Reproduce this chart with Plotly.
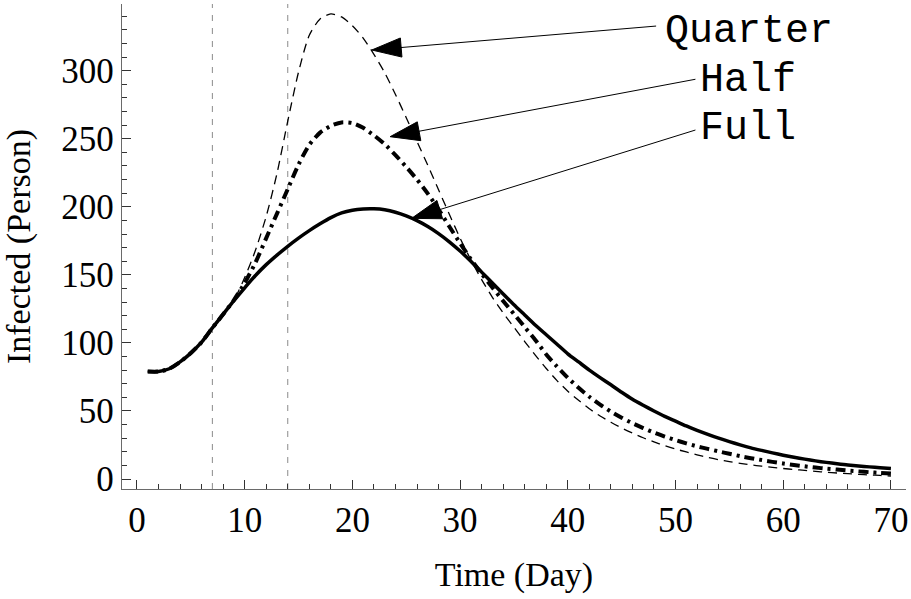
import plotly.graph_objects as go

# Daily number of infected people under three intervention levels
days = list(range(1, 71))

full = [79, 79, 81, 86, 92.5, 100.5, 111, 121, 131, 140.5,
        149.5, 157.5, 164.5, 171, 177, 182.5, 187.5, 192, 195.5, 197.5,
        198.4, 198.5, 197.8, 196, 193.3, 189.8, 185.5, 180.3, 174.3, 167.5,
        160, 152, 144, 136, 128, 120.5, 113, 106, 99, 92,
        86, 80, 74.5, 69.2, 63.7, 58.6, 54.2, 50.0, 46.0, 42.5,
        39.0, 35.8, 32.8, 30.0, 27.5, 25.1, 22.9, 21.0, 19.2, 17.5,
        16.0, 14.6, 13.3, 12.2, 11.2, 10.3, 9.6, 8.9, 8.3, 7.8]

half = [79, 79, 81, 86, 92.5, 100.5, 111, 121, 131.5, 144,
        159, 177, 195, 213, 231, 245.5, 254.5, 259.5, 262, 261.5,
        258, 252.5, 246, 238, 229.3, 220, 209.7, 198.2, 185.5, 173.3,
        161.5, 150.8, 140.6, 130.8, 121.2, 111.6, 102, 91.5, 82.6, 74.4,
        67, 60.4, 54.6, 49.5, 45, 41, 37.4, 34.1, 31.2, 28.6,
        26.2, 24, 22.1, 20.3, 18.5, 16.8, 15.3, 13.9, 12.6, 11.4,
        10.3, 9.3, 8.4, 7.6, 6.9, 6.2, 5.6, 5.0, 4.5, 4.0]

quarter = [79, 79, 81, 86, 92.5, 100.5, 111, 121, 131.5, 148,
           168, 193, 224.5, 263, 299, 326, 338, 341.7, 339.5, 333,
           324, 312, 298.5, 282.5, 265.5, 248, 230.5, 212.5, 194.5, 177,
           161, 146.5, 133.5, 122, 111.5, 101, 90.8, 81.2, 72.3, 64.5,
           57.8, 51.6, 46.3, 41.7, 37.5, 33.8, 30.3, 27.3, 24.5, 22,
           19.9, 17.8, 15.8, 14.2, 12.8, 11.5, 10.4, 9.4, 8.5, 7.7,
           7.0, 6.3, 5.6, 5.0, 4.4, 3.9, 3.4, 3.0, 2.6, 2.2]

# Days on which the intervention phases change
policy_days = [7, 14]

# Curve labels with their pointer arrows (data coordinates)
label_names = ["Quarter", "Half", "Full"]
label_x = [48.8, 52.1, 52.1]
label_y = [328.5, 292.5, 257.5]
arrow_tail_x = [48.2, 51.85, 51.85]
arrow_tail_y = [332.8, 293.7, 256.4]
arrow_tip_x = [21.8, 23.5, 25.5]
arrow_tip_y = [315.2, 251.5, 191.5]

SERIF = "Liberation Serif, Times New Roman, serif"
MONO = "Liberation Mono, Courier New, monospace"

fig = go.Figure()

curve_style = dict(shape="spline", smoothing=0.7, color="black")
fig.add_trace(go.Scatter(x=days, y=quarter, mode="lines", name="Quarter",
                         line=dict(width=1.3, dash="9px,6px", **curve_style)))
fig.add_trace(go.Scatter(x=days, y=half, mode="lines", name="Half",
                         line=dict(width=4, dash="10px,5px,3px,5px", **curve_style)))
fig.add_trace(go.Scatter(x=days, y=full, mode="lines", name="Full",
                         line=dict(width=3.5, **curve_style)))

# Pointer arrows from each label to its curve
for i in range(len(label_names)):
    fig.add_trace(go.Scatter(
        x=[arrow_tail_x[i], arrow_tip_x[i]],
        y=[arrow_tail_y[i], arrow_tip_y[i]],
        mode="lines+markers",
        line=dict(color="black", width=1),
        marker=dict(symbol="arrow", size=[0, 31], color="black", opacity=1,
                    angleref="previous", line=dict(width=1, color="black")),
        opacity=1,
        hoverinfo="skip",
    ))
    fig.add_annotation(x=label_x[i], y=label_y[i], xref="x", yref="y",
                       text=label_names[i], showarrow=False,
                       xanchor="left", yanchor="middle",
                       font=dict(family=MONO, size=40, color="black"))

for d in policy_days:
    fig.add_shape(type="line", xref="x", yref="paper", x0=d, x1=d, y0=0, y1=1,
                  line=dict(color="#8a8a8a", width=1, dash="6px,7px"), layer="below")

axis_common = dict(
    showline=True, linecolor="#6a6a6a", linewidth=1.3,
    ticks="inside", ticklen=9, tickwidth=1, tickcolor="#333333",
    showgrid=False, zeroline=False, mirror=False,
    tickfont=dict(family=SERIF, size=35, color="black"),
)

fig.update_xaxes(
    range=[-1.39, 71.4], tick0=0, dtick=10,
    minor=dict(ticks="inside", ticklen=5, dtick=2, tickwidth=1, tickcolor="#333333"),
    title=dict(text="Time (Day)", font=dict(family=SERIF, size=34, color="black"), standoff=23),
    **axis_common,
)
fig.update_yaxes(
    range=[-7.35, 349], tick0=0, dtick=50,
    minor=dict(ticks="inside", ticklen=5, dtick=10, tickwidth=1, tickcolor="#333333"),
    title=dict(text="Infected (Person)", font=dict(family=SERIF, size=34, color="black"), standoff=20),
    **axis_common,
)

fig.update_layout(
    width=911, height=599,
    margin=dict(l=122, r=5, t=4, b=110),
    paper_bgcolor="white", plot_bgcolor="white",
    showlegend=False,
)

fig.write_html("out.html")
